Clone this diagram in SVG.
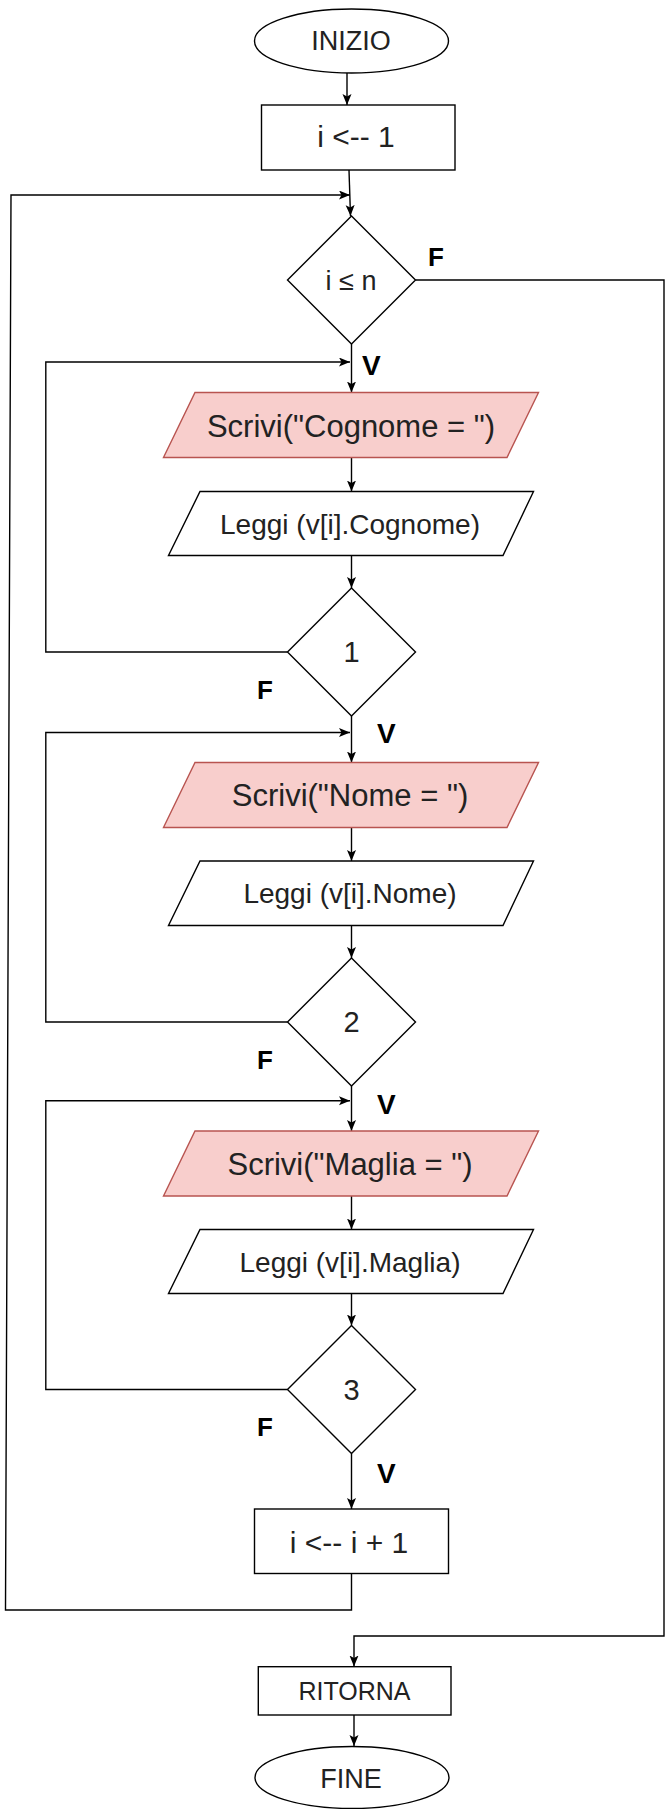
<svg xmlns="http://www.w3.org/2000/svg" width="665" height="1809" viewBox="0 0 665 1809">
  <style>
    .shape { fill: #ffffff; stroke: #000000; stroke-width: 1.4; }
    .out { fill: #f8cecc; stroke: #b85450; stroke-width: 1.4; }
    .edge { fill: none; stroke: #000000; stroke-width: 1.4; }
    .lbl { font-family: "Liberation Sans", Arial, sans-serif; fill: #222222; text-anchor: middle; }
    .tag { font-family: "Liberation Sans", Arial, sans-serif; font-weight: bold; fill: #000000; }
  </style>
  <defs>
    <marker id="arrow" markerUnits="userSpaceOnUse" markerWidth="12" markerHeight="10" refX="11" refY="4.5" orient="auto">
      <path d="M0,0 L11,4.5 L0,9 L2.5,4.5 Z" fill="#000000"/>
    </marker>
  </defs>
  <rect width="665" height="1809" fill="#ffffff"/>

  <!-- connectors -->
  <g id="connectors">
    <path class="edge" d="M347,73 L347,105" marker-end="url(#arrow)"/>
    <path class="edge" d="M349,170 L350.5,216" marker-end="url(#arrow)"/>
    <!-- outer loop: increment step back to the loop test -->
    <path class="edge" d="M351.5,1573.5 L351.5,1610 L5.5,1610 L11,195 L350,195" marker-end="url(#arrow)"/>
    <!-- exit of the main loop -->
    <path class="edge" d="M415.5,280 L664,280 L664,1636 L354,1636 L354,1666.5" marker-end="url(#arrow)"/>
    <path class="edge" d="M351.5,344 L351.5,392.5" marker-end="url(#arrow)"/>
    <path class="edge" d="M287.5,652 L45.8,652 L45.8,362 L350,362" marker-end="url(#arrow)"/>
    <path class="edge" d="M351.5,457.5 L351.5,491.5" marker-end="url(#arrow)"/>
    <path class="edge" d="M351.5,555.5 L351.5,588" marker-end="url(#arrow)"/>
    <path class="edge" d="M351.5,716 L351.5,762.5" marker-end="url(#arrow)"/>
    <path class="edge" d="M287.5,1022 L45.8,1022 L45.8,732.5 L350,732.5" marker-end="url(#arrow)"/>
    <path class="edge" d="M351.5,827.5 L351.5,861" marker-end="url(#arrow)"/>
    <path class="edge" d="M351.5,925.5 L351.5,958" marker-end="url(#arrow)"/>
    <path class="edge" d="M351.5,1086 L351.5,1131" marker-end="url(#arrow)"/>
    <path class="edge" d="M287.5,1389.5 L45.8,1389.5 L45.8,1100.7 L350,1100.7" marker-end="url(#arrow)"/>
    <path class="edge" d="M351.5,1196 L351.5,1229.5" marker-end="url(#arrow)"/>
    <path class="edge" d="M351.5,1293.5 L351.5,1325.5" marker-end="url(#arrow)"/>
    <path class="edge" d="M351.5,1453.5 L351.5,1509" marker-end="url(#arrow)"/>
    <path class="edge" d="M354,1715 L354,1746" marker-end="url(#arrow)"/>
  </g>

  <!-- branch labels -->
  <g id="labels">
    <text class="tag" x="428" y="266" font-size="26">F</text>
    <text class="tag" x="362" y="375" font-size="28">V</text>
    <text class="tag" x="257" y="699" font-size="26">F</text>
    <text class="tag" x="377" y="743" font-size="28">V</text>
    <text class="tag" x="257" y="1069" font-size="26">F</text>
    <text class="tag" x="377" y="1114" font-size="28">V</text>
    <text class="tag" x="257" y="1436" font-size="26">F</text>
    <text class="tag" x="377" y="1483" font-size="28">V</text>
  </g>

  <g id="inizio">
    <ellipse class="shape" cx="351.5" cy="41" rx="97" ry="32"/>
    <text class="lbl" x="351" y="49.5" font-size="27">INIZIO</text>
  </g>

  <g id="init-i">
    <rect class="shape" x="261.5" y="105" width="193.5" height="65"/>
    <text class="lbl" x="356" y="147" font-size="30">i &lt;-- 1</text>
  </g>

  <g id="test-i">
    <path class="shape" d="M351.5,216 L415.5,280 L351.5,344 L287.5,280 Z"/>
    <text class="lbl" x="351" y="290" font-size="27">i ≤ n</text>
  </g>

  <g id="scrivi-cognome">
    <path class="out" d="M195,392.5 L538.5,392.5 L507,457.5 L163.5,457.5 Z"/>
    <text class="lbl" x="351" y="436.5" font-size="31">Scrivi("Cognome = ")</text>
  </g>

  <g id="leggi-cognome">
    <path class="shape" d="M200,491.5 L533.5,491.5 L503,555.5 L168.5,555.5 Z"/>
    <text class="lbl" x="350" y="533.5" font-size="28">Leggi (v[i].Cognome)</text>
  </g>

  <g id="check-1">
    <path class="shape" d="M351.5,588 L415.5,652 L351.5,716 L287.5,652 Z"/>
    <text class="lbl" x="351.5" y="662" font-size="29">1</text>
  </g>

  <g id="scrivi-nome">
    <path class="out" d="M195,762.5 L538.5,762.5 L507,827.5 L163.5,827.5 Z"/>
    <text class="lbl" x="350" y="806" font-size="31">Scrivi("Nome = ")</text>
  </g>

  <g id="leggi-nome">
    <path class="shape" d="M200,861 L533.5,861 L503,925.5 L168.5,925.5 Z"/>
    <text class="lbl" x="350" y="903" font-size="28">Leggi (v[i].Nome)</text>
  </g>

  <g id="check-2">
    <path class="shape" d="M351.5,958 L415.5,1022 L351.5,1086 L287.5,1022 Z"/>
    <text class="lbl" x="351.5" y="1032" font-size="29">2</text>
  </g>

  <g id="scrivi-maglia">
    <path class="out" d="M195,1131 L538.5,1131 L507,1196 L163.5,1196 Z"/>
    <text class="lbl" x="350" y="1174.5" font-size="31">Scrivi("Maglia = ")</text>
  </g>

  <g id="leggi-maglia">
    <path class="shape" d="M200,1229.5 L533.5,1229.5 L503,1293.5 L168.5,1293.5 Z"/>
    <text class="lbl" x="350" y="1271.5" font-size="28">Leggi (v[i].Maglia)</text>
  </g>

  <g id="check-3">
    <path class="shape" d="M351.5,1325.5 L415.5,1389.5 L351.5,1453.5 L287.5,1389.5 Z"/>
    <text class="lbl" x="351.5" y="1399.5" font-size="29">3</text>
  </g>

  <g id="incr-i">
    <rect class="shape" x="254.5" y="1509" width="194" height="64.5"/>
    <text class="lbl" x="349" y="1553" font-size="30">i &lt;-- i + 1</text>
  </g>

  <g id="ritorna">
    <rect class="shape" x="258.3" y="1666.7" width="192.7" height="48.3"/>
    <text class="lbl" x="354.5" y="1699.5" font-size="25">RITORNA</text>
  </g>

  <g id="fine">
    <ellipse class="shape" cx="352" cy="1777.5" rx="97" ry="31"/>
    <text class="lbl" x="351" y="1787.5" font-size="27">FINE</text>
  </g>
</svg>
